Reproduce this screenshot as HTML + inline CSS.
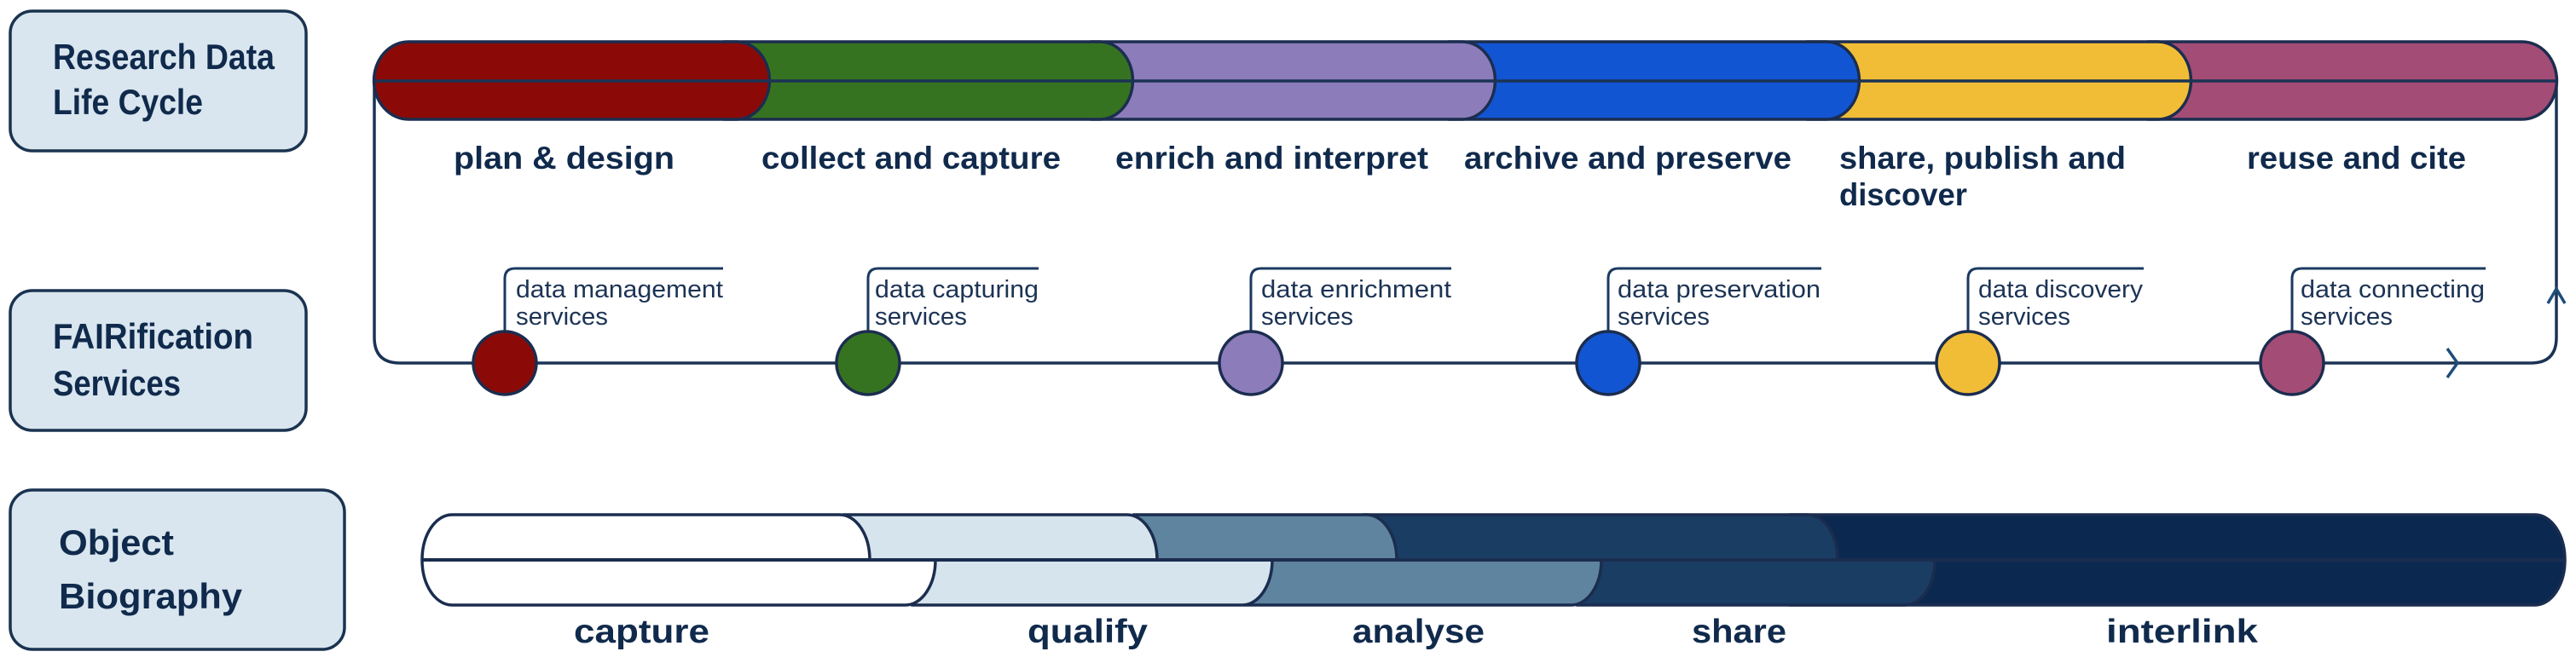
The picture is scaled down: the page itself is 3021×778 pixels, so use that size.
<!DOCTYPE html>
<html><head><meta charset="utf-8"><style>
html,body{margin:0;padding:0;background:#fff;width:3021px;height:778px;overflow:hidden}
svg{display:block}
.b{font-family:"Liberation Sans",sans-serif;font-weight:bold;fill:#102a4c}
.s{font-family:"Liberation Sans",sans-serif;fill:#1c3354}
</style></head><body>
<svg width="3021" height="778" viewBox="0 0 3021 778" xmlns="http://www.w3.org/2000/svg">
<defs>
<clipPath id="ct"><rect x="0" y="590" width="3021" height="67"/></clipPath>
<clipPath id="cb"><rect x="0" y="657" width="3021" height="70"/></clipPath>
</defs>
<!-- left boxes -->
<rect x="12" y="13" width="347" height="164" rx="26" fill="#d9e6ef" stroke="#1a3350" stroke-width="3.5"/>
<text class="b" x="62" y="81" font-size="42" textLength="260" lengthAdjust="spacingAndGlyphs">Research Data</text>
<text class="b" x="62" y="134" font-size="42" textLength="176" lengthAdjust="spacingAndGlyphs">Life Cycle</text>
<rect x="12" y="341" width="347" height="164" rx="26" fill="#d9e6ef" stroke="#1a3350" stroke-width="3.5"/>
<text class="b" x="62" y="409" font-size="42" textLength="235" lengthAdjust="spacingAndGlyphs">FAIRification</text>
<text class="b" x="62" y="464" font-size="42" textLength="150" lengthAdjust="spacingAndGlyphs">Services</text>
<rect x="12" y="575" width="392" height="187" rx="26" fill="#d9e6ef" stroke="#1a3350" stroke-width="3.5"/>
<text class="b" x="69" y="651" font-size="42" textLength="135" lengthAdjust="spacingAndGlyphs">Object</text>
<text class="b" x="69" y="714" font-size="42" textLength="215" lengthAdjust="spacingAndGlyphs">Biography</text>

<!-- cycle loop line -->
<path d="M439 95 V396 Q439 426 469 426 H2968 Q2998 426 2998 396 V95" fill="none" stroke="#1b3354" stroke-width="3.5"/>
<path d="M2988 356 L2998 339 L3008 356" fill="none" stroke="#1d4d7a" stroke-width="3.5"/>
<path d="M2870 409 L2882 426 L2870 443" fill="none" stroke="#1d4d7a" stroke-width="3.5"/>

<!-- top bar -->
<g stroke="#1b2d4f" stroke-width="3.5">
<path d="M2520 49 H2958 A40 45 0 0 1 2958 140 H2520 Z" fill="#a34c75"/>
<path d="M2120 49 H2531 A38 45 0 0 1 2531 140 H2120 Z" fill="#f2bd36"/>
<path d="M1700 49 H2142 A38 45 0 0 1 2142 140 H1700 Z" fill="#1255d3"/>
<path d="M1280 49 H1715 A38 45 0 0 1 1715 140 H1280 Z" fill="#8c7cba"/>
<path d="M850 49 H1290 A38 45 0 0 1 1290 140 H850 Z" fill="#367321"/>
<path d="M479 49 H864 A38 45 0 0 1 864 140 H479 A40 45 0 0 1 479 49 Z" fill="#8b0a07"/>
</g>
<line x1="440" y1="95" x2="2997" y2="95" stroke="#1b3354" stroke-width="3.5"/>

<!-- stage labels -->
<text class="b" x="532" y="198" font-size="37" textLength="259" lengthAdjust="spacingAndGlyphs">plan &amp; design</text>
<text class="b" x="893" y="198" font-size="37" textLength="351" lengthAdjust="spacingAndGlyphs">collect and capture</text>
<text class="b" x="1308" y="198" font-size="37" textLength="367" lengthAdjust="spacingAndGlyphs">enrich and interpret</text>
<text class="b" x="1717" y="198" font-size="37" textLength="384" lengthAdjust="spacingAndGlyphs">archive and preserve</text>
<text class="b" x="2157" y="198" font-size="37" textLength="336" lengthAdjust="spacingAndGlyphs">share, publish and</text>
<text class="b" x="2157" y="241" font-size="37" textLength="150" lengthAdjust="spacingAndGlyphs">discover</text>
<text class="b" x="2635" y="198" font-size="37" textLength="257" lengthAdjust="spacingAndGlyphs">reuse and cite</text>

<!-- service hooks -->
<g fill="none" stroke="#1b3a60" stroke-width="3">
<path d="M592 390 V327 Q592 315 604 315 H848"/>
<path d="M1018 390 V327 Q1018 315 1030 315 H1218"/>
<path d="M1467 390 V327 Q1467 315 1479 315 H1702"/>
<path d="M1886 390 V327 Q1886 315 1898 315 H2136"/>
<path d="M2308 390 V327 Q2308 315 2320 315 H2514"/>
<path d="M2688 390 V327 Q2688 315 2700 315 H2915"/>
</g>
<g stroke="#1b2d4f" stroke-width="3.5">
<circle cx="592" cy="426" r="37" fill="#8b0a07"/>
<circle cx="1018" cy="426" r="37" fill="#367321"/>
<circle cx="1467" cy="426" r="37" fill="#8c7cba"/>
<circle cx="1886" cy="426" r="37" fill="#1255d3"/>
<circle cx="2308" cy="426" r="37" fill="#f2bd36"/>
<circle cx="2688" cy="426" r="37" fill="#a34c75"/>
</g>
<g class="s" font-size="29">
<text x="605" y="349" textLength="243" lengthAdjust="spacingAndGlyphs">data management</text><text x="605" y="381" textLength="108" lengthAdjust="spacingAndGlyphs">services</text>
<text x="1026" y="349" textLength="192" lengthAdjust="spacingAndGlyphs">data capturing</text><text x="1026" y="381" textLength="108" lengthAdjust="spacingAndGlyphs">services</text>
<text x="1479" y="349" textLength="223" lengthAdjust="spacingAndGlyphs">data enrichment</text><text x="1479" y="381" textLength="108" lengthAdjust="spacingAndGlyphs">services</text>
<text x="1897" y="349" textLength="238" lengthAdjust="spacingAndGlyphs">data preservation</text><text x="1897" y="381" textLength="108" lengthAdjust="spacingAndGlyphs">services</text>
<text x="2320" y="349" textLength="193" lengthAdjust="spacingAndGlyphs">data discovery</text><text x="2320" y="381" textLength="108" lengthAdjust="spacingAndGlyphs">services</text>
<text x="2698" y="349" textLength="216" lengthAdjust="spacingAndGlyphs">data connecting</text><text x="2698" y="381" textLength="108" lengthAdjust="spacingAndGlyphs">services</text>
</g>

<!-- object biography bar -->
<g stroke="#1b2d4f" stroke-width="3.5">
<g clip-path="url(#ct)">
<path d="M2100 604 H2973 A35 53 0 0 1 2973 710 H2100 Z" fill="#0b2850"/>
<path d="M1600 604 H2120 A35 53 0 0 1 2120 710 H1600 Z" fill="#1a3d63"/>
<path d="M1330 604 H1603 A35 53 0 0 1 1603 710 H1330 Z" fill="#5f849f"/>
<path d="M990 604 H1322 A35 53 0 0 1 1322 710 H990 Z" fill="#d6e4ed"/>
<path d="M530 604 H985 A35 53 0 0 1 985 710 H530 A35 53 0 0 1 530 604 Z" fill="#ffffff"/>
</g>
<g clip-path="url(#cb)">
<path d="M2100 604 H2973 A35 53 0 0 1 2973 710 H2100 Z" fill="#0b2850"/>
<path d="M1850 604 H2234 A35 53 0 0 1 2234 710 H1850 Z" fill="#1a3d63"/>
<path d="M1460 604 H1843 A35 53 0 0 1 1843 710 H1460 Z" fill="#5f849f"/>
<path d="M1070 604 H1457 A35 53 0 0 1 1457 710 H1070 Z" fill="#d6e4ed"/>
<path d="M530 604 H1062 A35 53 0 0 1 1062 710 H530 A35 53 0 0 1 530 604 Z" fill="#ffffff"/>
</g>
</g>
<line x1="496" y1="657" x2="3006" y2="657" stroke="#1b2d4f" stroke-width="4"/>

<text class="b" x="673" y="754" font-size="39" textLength="159" lengthAdjust="spacingAndGlyphs">capture</text>
<text class="b" x="1205" y="754" font-size="39" textLength="141" lengthAdjust="spacingAndGlyphs">qualify</text>
<text class="b" x="1586" y="754" font-size="39" textLength="155" lengthAdjust="spacingAndGlyphs">analyse</text>
<text class="b" x="1984" y="754" font-size="39" textLength="111" lengthAdjust="spacingAndGlyphs">share</text>
<text class="b" x="2470" y="754" font-size="39" textLength="178" lengthAdjust="spacingAndGlyphs">interlink</text>
</svg>
</body></html>
